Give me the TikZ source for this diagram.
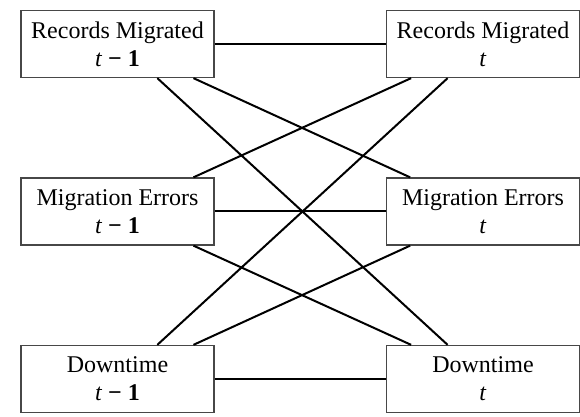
\documentclass[tikz,border=0pt]{standalone}
\usepackage{fontspec}
\setmainfont{Liberation Serif}
\usetikzlibrary{calc}
\newcommand{\prevstep}{\textit{t} \textbf{−} \textbf{1}}
\begin{document}
\begin{tikzpicture}[x=0.5pt,y=-0.5pt,
  box/.style={draw=black!72, line width=0.65pt, minimum width=96.5pt,
    minimum height=33.5pt, inner sep=0pt, align=center,
    font=\fontsize{12}{14}\selectfont},
  link/.style={line width=1pt, black}]
\useasboundingbox (0,0) rectangle (580,417);

% variables at time t-1 (left) and t (right)
\node[box] (rm0) at (117.5,44)  {Records Migrated\\\prevstep};
\node[box] (me0) at (117.5,211.5) {Migration Errors\\\prevstep};
\node[box] (dt0) at (117.5,379) {Downtime\\\prevstep};
\node[box] (rm1) at (483,44)  {Records Migrated\\\textit{t}};
\node[box] (me1) at (483,211.5) {Migration Errors\\\textit{t}};
\node[box] (dt1) at (483,379) {Downtime\\\textit{t}};

% same-variable links
\draw[link] (rm0.east) -- (rm1.west);
\draw[link] (me0.east) -- (me1.west);
\draw[link] (dt0.east) -- (dt1.west);

% cross links between time slices
\draw[link] ($(rm0.south west)!0.705!(rm0.south east)$) -- ($(dt1.north west)!0.318!(dt1.north east)$);
\draw[link] ($(rm0.south west)!0.891!(rm0.south east)$) -- ($(me1.north west)!0.125!(me1.north east)$);
\draw[link] ($(rm1.south west)!0.13!(rm1.south east)$) -- ($(me0.north west)!0.891!(me0.north east)$);
\draw[link] ($(rm1.south west)!0.318!(rm1.south east)$) -- ($(dt0.north west)!0.705!(dt0.north east)$);
\draw[link] ($(me0.south west)!0.891!(me0.south east)$) -- ($(dt1.north west)!0.13!(dt1.north east)$);
\draw[link] ($(me1.south west)!0.125!(me1.south east)$) -- ($(dt0.north west)!0.891!(dt0.north east)$);
\end{tikzpicture}
\end{document}
